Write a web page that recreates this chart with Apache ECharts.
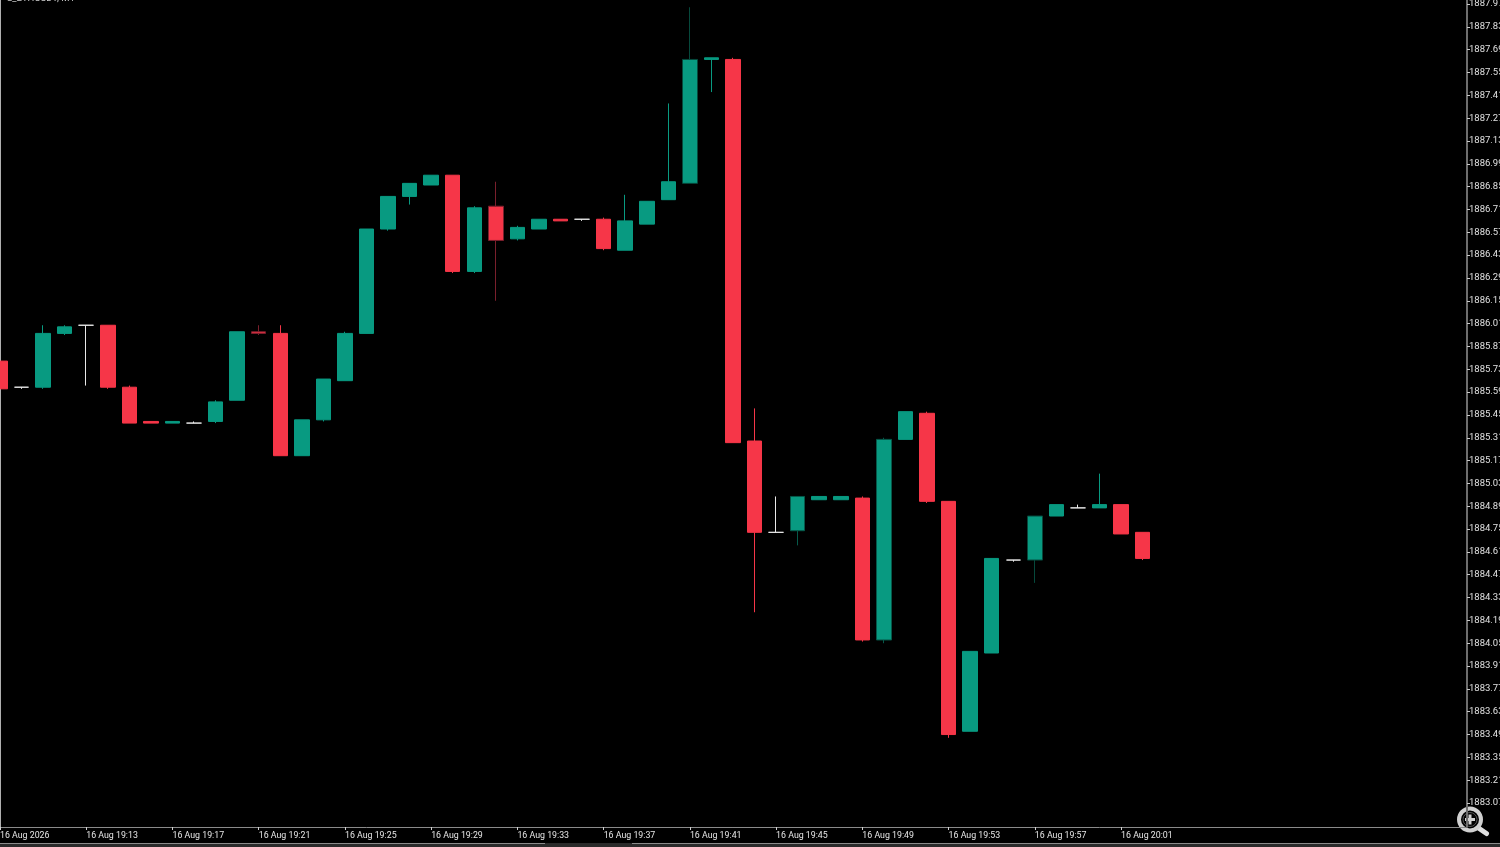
<!DOCTYPE html>
<html>
<head>
<meta charset="utf-8">
<style>html,body{margin:0;padding:0;background:#000;overflow:hidden}#c{width:1500px;height:847px}</style>
<script src="https://cdn.jsdelivr.net/npm/echarts@6/dist/echarts.min.js"></script>
</head>
<body>
<div id="c"></div>
<script>
const chartTitle = 'a_ETHUSDT, M1';
const opens  = [1885.78,1885.62,1885.62,1885.95,1886.00,1886.00,1885.62,1885.41,1885.40,1885.40,1885.41,1885.54,1885.96,1885.95,1885.20,1885.42,1885.66,1885.95,1886.59,1886.79,1886.86,1886.92,1886.33,1886.73,1886.53,1886.59,1886.65,1886.65,1886.65,1886.46,1886.62,1886.77,1886.87,1887.63,1887.63,1885.29,1884.73,1884.74,1884.93,1884.93,1884.94,1884.07,1885.30,1885.46,1884.92,1883.51,1883.99,1884.56,1884.56,1884.83,1884.88,1884.88,1884.90,1884.73];
const closes = [1885.61,1885.62,1885.95,1885.99,1886.00,1885.62,1885.40,1885.40,1885.41,1885.40,1885.53,1885.96,1885.95,1885.20,1885.42,1885.67,1885.95,1886.59,1886.79,1886.87,1886.92,1886.33,1886.72,1886.52,1886.60,1886.65,1886.64,1886.65,1886.47,1886.64,1886.76,1886.88,1887.63,1887.64,1885.28,1884.73,1884.73,1884.95,1884.95,1884.95,1884.07,1885.30,1885.47,1884.92,1883.49,1884.00,1884.57,1884.56,1884.83,1884.90,1884.88,1884.90,1884.72,1884.57];
const highs  = [1885.78,1885.62,1886.00,1886.00,1886.00,1886.00,1885.63,1885.41,1885.41,1885.41,1885.54,1885.96,1886.00,1886.00,1885.42,1885.67,1885.96,1886.59,1886.79,1886.87,1886.92,1886.92,1886.73,1886.88,1886.61,1886.65,1886.65,1886.65,1886.66,1886.80,1886.76,1887.36,1887.95,1887.64,1887.64,1885.49,1884.95,1884.95,1884.95,1884.95,1884.95,1885.31,1885.47,1885.47,1884.92,1884.00,1884.57,1884.56,1884.83,1884.90,1884.90,1885.09,1884.90,1884.73];
const lows   = [1885.61,1885.61,1885.61,1885.94,1885.63,1885.61,1885.40,1885.40,1885.40,1885.40,1885.40,1885.54,1885.94,1885.20,1885.20,1885.41,1885.66,1885.95,1886.58,1886.74,1886.86,1886.32,1886.32,1886.15,1886.52,1886.59,1886.64,1886.64,1886.46,1886.46,1886.62,1886.77,1886.87,1887.43,1885.28,1884.24,1884.73,1884.65,1884.93,1884.93,1884.06,1884.05,1885.30,1884.91,1883.47,1883.51,1883.99,1884.55,1884.42,1884.83,1884.88,1884.88,1884.72,1884.56];
const minuteLabels = ['16 Aug 2026','16 Aug 19:13','16 Aug 19:17','16 Aug 19:21','16 Aug 19:25','16 Aug 19:29','16 Aug 19:33','16 Aug 19:37','16 Aug 19:41','16 Aug 19:45','16 Aug 19:49','16 Aug 19:53','16 Aug 19:57','16 Aug 20:01'];
const priceTicks = [1887.97,1887.83,1887.69,1887.55,1887.41,1887.27,1887.13,1886.99,1886.85,1886.71,1886.57,1886.43,1886.29,1886.15,1886.01,1885.87,1885.73,1885.59,1885.45,1885.31,1885.17,1885.03,1884.89,1884.75,1884.61,1884.47,1884.33,1884.19,1884.05,1883.91,1883.77,1883.63,1883.49,1883.35,1883.21,1883.07];
const axisMin = 1882.923, axisMax = 1887.9945, slots = 68;

const GREEN = '#089A81', RED = '#F63648', WHITE = '#E8E8E8';
const dimWicks = {23:'#7a1f2c',32:'#06493c',37:'#06594a',41:'#06594a',48:'#06493c',12:'#7a1f2c'};

const cats = [], tickIdx = new Set();
for (let i = 0; i <= slots; i++) {
  cats.push(i % 4 === 0 && minuteLabels[i / 4] ? minuteLabels[i / 4] : '');
  if (i % 4 === 0 && minuteLabels[i / 4]) tickIdx.add(i);
}
const data = opens.map((o, i) => {
  const c = closes[i];
  const col = o === c ? WHITE : (c > o ? GREEN : RED);
  return {
    value: [o, c, lows[i], highs[i]],
    itemStyle: {color: col, color0: col, borderColor: dimWicks[i] || col, borderColor0: dimWicks[i] || col}
  };
});

const font = 'Roboto, "Liberation Sans", Arial, sans-serif';
const chart = echarts.init(document.getElementById('c'), null, {renderer: 'canvas'});
chart.setOption({
  backgroundColor: '#000',
  animation: false,
  grid: {left: 0, right: 34, top: 0, bottom: 20, outerBoundsMode: 'none', containLabel: false},
  xAxis: {
    type: 'category', data: cats, boundaryGap: false,
    axisLine: {show: true, lineStyle: {color: '#8a8a8a', width: 1}},
    axisTick: {show: true, length: 3, inside: false, interval: (i) => tickIdx.has(i), lineStyle: {color: '#d0d0d0'}},
    axisLabel: {show: true, interval: (i) => tickIdx.has(i), color: '#e6e6e6', fontFamily: font, fontSize: 8.8, align: 'left', margin: 4, showMinLabel: true},
    splitLine: {show: false}
  },
  yAxis: {
    type: 'value', position: 'right', offset: 1, scale: true, min: axisMin, max: axisMax,
    axisLine: {show: true, lineStyle: {color: '#6e6e6e', width: 2}},
    axisTick: {show: true, length: 3, customValues: priceTicks, lineStyle: {color: '#c8c8c8'}},
    axisLabel: {show: true, customValues: priceTicks, color: '#e0e0e0', fontFamily: font, fontSize: 9.5, margin: 2, verticalAlign: 'top', padding: [-5, 0, 0, 0], formatter: (v) => v.toFixed(2), showMinLabel: true, showMaxLabel: true},
    splitLine: {show: false}
  },
  series: [{
    type: 'candlestick', data: data, barWidth: 15, clip: true,
    itemStyle: {borderWidth: 1}
  }],
  graphic: [
    {type: 'rect', silent: true, shape: {x: 0, y: 0, width: 1, height: 827}, style: {fill: '#b0b0b0'}},
    {type: 'text', silent: true, left: 7, top: -6, style: {text: chartTitle, fill: '#cfcfcf', font: '9.5px ' + font}},
    {type: 'rect', silent: true, shape: {x: 0, y: 843, width: 1500, height: 4}, style: {fill: '#2a2a2a'}},
    {type: 'rect', silent: true, shape: {x: 0, y: 843, width: 545, height: 1}, style: {fill: '#8a8a8a'}},
    {type: 'rect', silent: true, shape: {x: 632, y: 843, width: 868, height: 1}, style: {fill: '#8a8a8a'}},
    {type: 'line', silent: true, shape: {x1: 1477, y1: 827, x2: 1486.5, y2: 833.5}, style: {stroke: '#e0e0e0', lineWidth: 5, lineCap: 'round'}},
    {type: 'circle', silent: true, shape: {cx: 1470, cy: 819.5, r: 11}, style: {fill: '#000', stroke: '#d0d0d0', lineWidth: 4}},
    {type: 'circle', silent: true, shape: {cx: 1470, cy: 819.5, r: 7}, style: {fill: '#000', stroke: '#555', lineWidth: 1}},
    {type: 'rect', silent: true, shape: {x: 1465, y: 818, width: 10, height: 3}, style: {fill: '#d0d0d0'}},
    {type: 'rect', silent: true, shape: {x: 1468.5, y: 814.5, width: 3, height: 10}, style: {fill: '#d0d0d0'}}
  ]
});
</script>
</body>
</html>
